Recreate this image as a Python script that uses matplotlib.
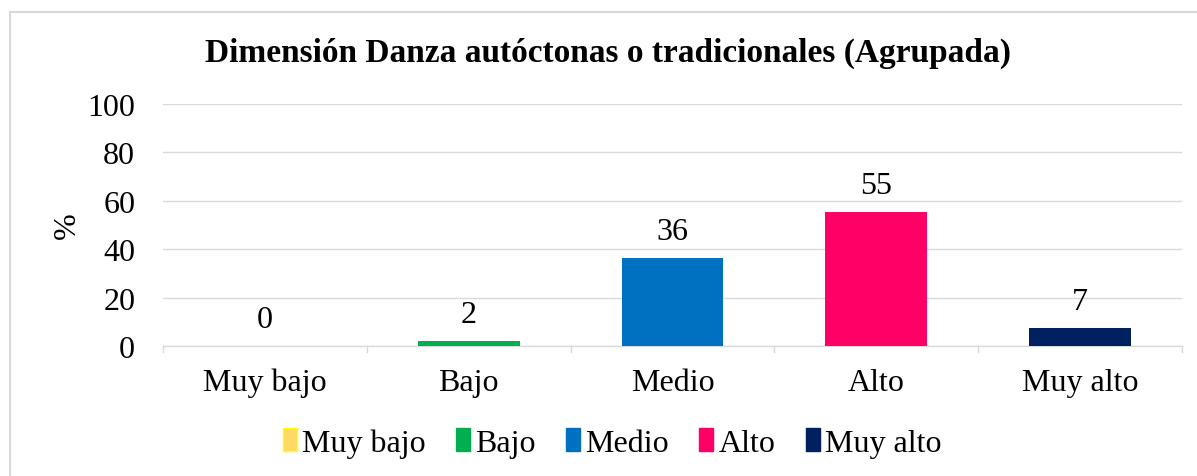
import matplotlib.pyplot as plt
from matplotlib.lines import Line2D
from matplotlib.patches import Rectangle

categorias = ['Muy bajo', 'Bajo', 'Medio', 'Alto', 'Muy alto']
valores = [0, 2.2, 36.2, 55.5, 7.3]
etiquetas = ['0', '2', '36', '55', '7']
colores = ['#FFD966', '#00B050', '#0070C0', '#FF0066', '#002060']
bordes = ['#FFFF00', '#00B050', '#0070C0', '#FF0066', '#002060']
yticks = [0, 20, 40, 60, 80, 100]

plt.rcParams['font.family'] = ['Liberation Serif', 'DejaVu Serif']
fs = 23

fig = plt.figure(figsize=(11.97, 4.77), dpi=100)
ax = fig.add_axes([163/1197, 1-347/477, (1182-163)/1197, (347-105)/477])

x = range(len(categorias))
ax.bar(x, valores, width=0.5, color=colores, zorder=3)
for i, v in enumerate(valores):
    ax.text(i, v + 5, etiquetas[i], ha='center', va='bottom', fontsize=fs)

ax.set_xlim(-0.5, len(categorias) - 0.5)
ax.set_ylim(0, 100)
ax.set_yticks(yticks)
ax.set_yticklabels([str(t) for t in yticks], fontsize=fs)
ax.grid(axis='y', color='#D9D9D9', linewidth=1, zorder=0)
ax.set_xticks([])
for s in ['top', 'right', 'left']:
    ax.spines[s].set_visible(False)
ax.spines['bottom'].set_color('#D9D9D9')
ax.spines['bottom'].set_linewidth(1)
ax.tick_params(axis='y', length=0, pad=20)
# marcas entre categorias
for b in [i - 0.5 for i in range(len(categorias) + 1)]:
    ax.plot([b, b], [0, -2.5], color='#D9D9D9', lw=1, clip_on=False)
for i, c in enumerate(categorias):
    ax.text(i, -9, c, ha='center', va='top', fontsize=fs)
ax.set_ylabel('%', fontsize=fs, labelpad=4)

fig.text(608/1197, 1-53/477, 'Dimensión Danza autóctonas o tradicionales (Agrupada)',
         ha='center', va='center', fontsize=24, fontweight='bold')

handles = [Rectangle((0, 0), 1, 1, facecolor=colores[i], edgecolor=bordes[i], lw=1)
           for i in range(len(categorias))]
fig.legend(handles, categorias, loc='center', bbox_to_anchor=(612/1197, 1-444/477),
           ncol=5, frameon=False, fontsize=fs, handlelength=0.45, handleheight=0.7,
           handletextpad=0.15, columnspacing=0.95)

# borde del grafico (solo arriba e izquierda visibles)
fig.add_artist(Line2D([10/1197, 1], [1-13/477, 1-13/477], transform=fig.transFigure,
                      color='#D9D9D9', lw=1.5))
fig.add_artist(Line2D([10/1197, 10/1197], [0, 1-13/477], transform=fig.transFigure,
                      color='#D9D9D9', lw=1.5))

fig.savefig('out.png', dpi=100)
